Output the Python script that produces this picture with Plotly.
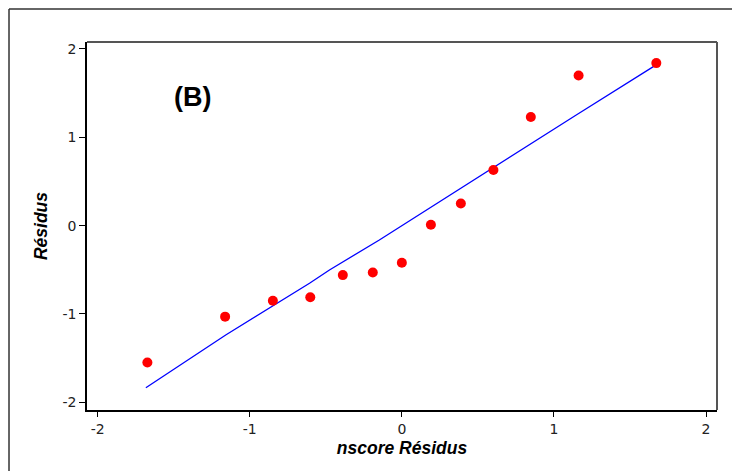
import plotly.graph_objects as go

# Data
nscore = [-1.673, -1.162, -0.848, -0.602, -0.388, -0.191, 0.0, 0.191, 0.388, 0.602, 0.848, 1.162, 1.673]
residus = [-1.55, -1.03, -0.85, -0.81, -0.56, -0.53, -0.42, 0.01, 0.25, 0.63, 1.23, 1.70, 1.84]
line_x = [-1.683, -1.158, -0.607, -0.476, -0.148, 0.464, 1.144, 1.672]
line_y = [-1.835, -1.238, -0.652, -0.502, -0.162, 0.51, 1.25, 1.82]
x_ticks = [-2, -1, 0, 1, 2]
x_ticktext = ["-2", "-1", "0", "1", "2"]
y_ticks = [-2, -1, 0, 1, 2]
y_ticktext = ["-2", "-1", "0", "1", "2"]

fig = go.Figure()
fig.add_trace(go.Scatter(x=line_x, y=line_y, mode="lines",
                         line=dict(color="#0000ff", width=1.3), showlegend=False))
fig.add_trace(go.Scatter(x=nscore, y=residus, mode="markers",
                         marker=dict(color="#ff0000", size=10), showlegend=False))

fig.add_annotation(x=-1.379, y=1.457, text="<b>(B)</b>", showarrow=False,
                   font=dict(family="Liberation Sans, Arial", size=27, color="black"))

fig.update_layout(
    width=740, height=471,
    margin=dict(l=79, r=31, t=34, b=69),
    paper_bgcolor="white", plot_bgcolor="white",
    xaxis=dict(range=[-2.07, 2.072], tickvals=x_ticks, ticktext=x_ticktext,
               ticks="outside", ticklen=5, automargin=False,
               tickcolor="black", showgrid=False, zeroline=False,
               showline=True, linecolor="black", linewidth=1.5,
               tickfont=dict(family="DejaVu Sans", size=14, color="#222"),
               title=dict(text="<b><i>nscore Résidus</i></b>", standoff=6,
                          font=dict(family="Liberation Sans, Arial", size=17.5, color="black"))),
    yaxis=dict(range=[-2.087, 2.079], tickvals=y_ticks, ticktext=y_ticktext,
               ticks="outside", ticklen=6, automargin=False,
               tickcolor="black", showgrid=False, zeroline=False,
               showline=True, linecolor="black", linewidth=1.5,
               tickfont=dict(family="DejaVu Sans", size=14, color="#222"),
               title=dict(text="<b><i>Résidus</i></b>", standoff=10,
                          font=dict(family="Liberation Sans, Arial", size=17.5, color="black"))),
    shapes=[
        # top and right plot frame in gray
        dict(type="line", xref="paper", yref="paper", x0=0, x1=1, y0=1, y1=1,
             line=dict(color="#555", width=2)),
        dict(type="line", xref="paper", yref="paper", x0=1, x1=1, y0=0, y1=1,
             line=dict(color="#555", width=2)),
        # outer border (top and left edges)
        dict(type="line", xref="paper", yref="paper", x0=-0.1238, x1=1.1, y0=1.0897, y1=1.0897,
             line=dict(color="#333", width=1.5)),
        dict(type="line", xref="paper", yref="paper", x0=-0.1238, x1=-0.1238, y0=-0.3, y1=1.0897,
             line=dict(color="#333", width=1.5)),
    ],
)

fig.write_html("out.html")
